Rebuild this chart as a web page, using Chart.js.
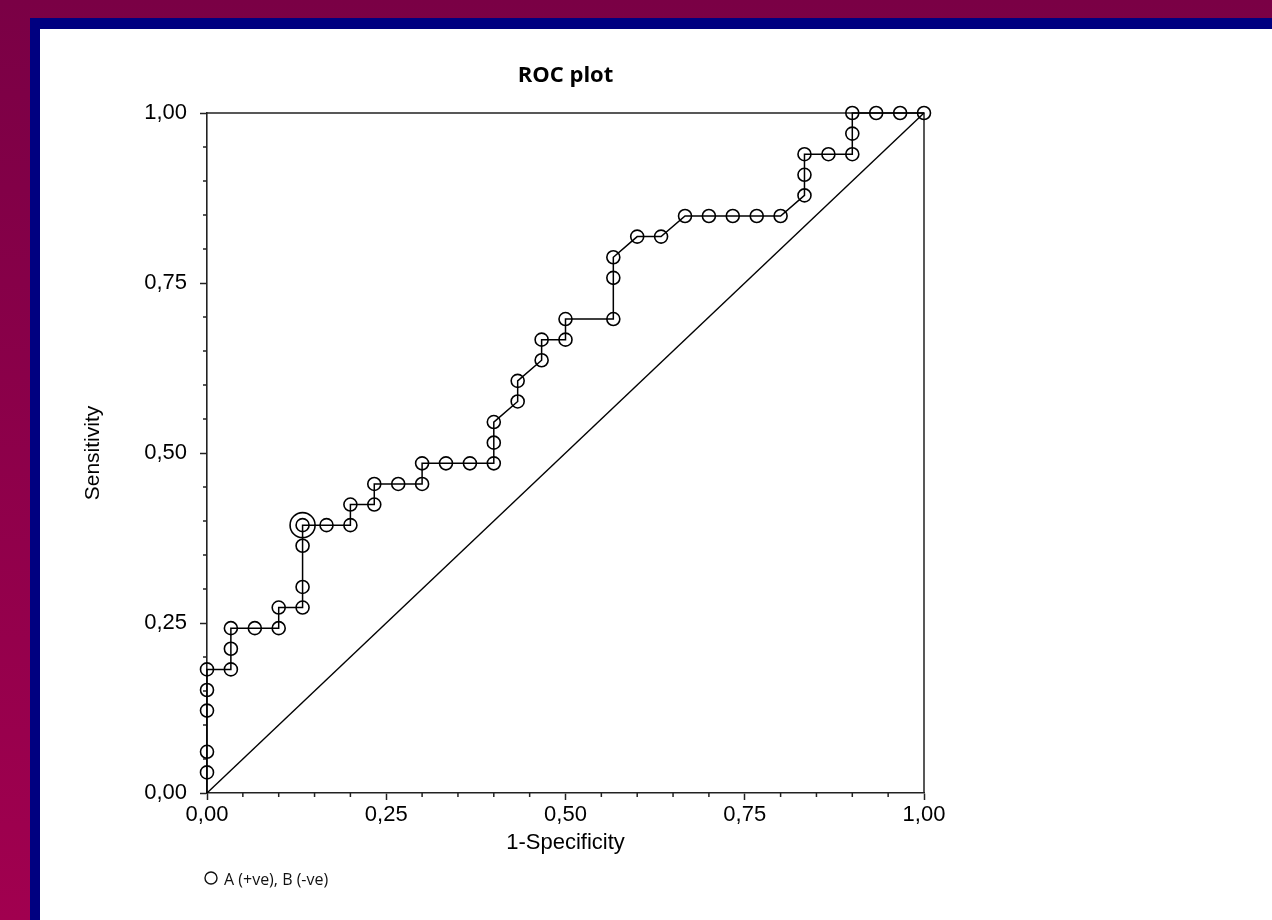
<!DOCTYPE html>
<html>
<head>
<meta charset="utf-8">
<title>ROC plot</title>
<script src="https://cdn.jsdelivr.net/npm/chart.js@4.4.1/dist/chart.umd.min.js"></script>
<style>
  html, body { margin: 0; padding: 0; width: 1272px; height: 920px; overflow: hidden; }
  body { position: relative; background: linear-gradient(to bottom, #7a0045, #a1004f); }
  #frame { position: absolute; left: 30px; top: 18px; right: 0; bottom: 0; background: #000080; }
  #panel { position: absolute; left: 40px; top: 29px; right: 0; bottom: 0; background: #fff; }
  #rocChart { position: absolute; left: 0; top: 0; }
</style>
</head>
<body>
<div id="frame"></div>
<div id="panel"></div>
<canvas id="rocChart" width="1272" height="920"></canvas>
<script>
// 1-Specificity (false positive rate) along the curve
const fpr = [
    0, 0, 0, 0, 0, 0,
    0.0333, 0.0333, 0.0333, 0.0667, 0.1, 0.1,
    0.1333, 0.1333, 0.1333, 0.1333, 0.1667, 0.2, 0.2,
    0.2333, 0.2333, 0.2667, 0.3, 0.3, 0.3333, 0.3667,
    0.4, 0.4, 0.4, 0.4333, 0.4333, 0.4667, 0.4667, 0.5, 0.5,
    0.5667, 0.5667, 0.5667, 0.6, 0.6333, 0.6667, 0.7, 0.7333, 0.7667, 0.8,
    0.8333, 0.8333, 0.8333, 0.8667, 0.9, 0.9, 0.9, 0.9333, 0.9667, 1
]
// Sensitivity (true positive rate) along the curve
const tpr = [
    0, 0.0303, 0.0606, 0.1212, 0.1515, 0.1818,
    0.1818, 0.2121, 0.2424, 0.2424, 0.2424, 0.2727,
    0.2727, 0.3030, 0.3636, 0.3939, 0.3939, 0.3939, 0.4242,
    0.4242, 0.4545, 0.4545, 0.4545, 0.4848, 0.4848, 0.4848,
    0.4848, 0.5152, 0.5455, 0.5758, 0.6061, 0.6364, 0.6667, 0.6667, 0.6970,
    0.6970, 0.7576, 0.7879, 0.8182, 0.8182, 0.8485, 0.8485, 0.8485, 0.8485, 0.8485,
    0.8788, 0.9091, 0.9394, 0.9394, 0.9394, 0.9697, 1, 1, 1, 1
]
// optimal criterion (double circle)
const optimalFpr = [0.1333]
const optimalTpr = [0.3939]
// reference diagonal
const diagX = [0, 1]
const diagY = [0, 1]

const majorTicks = [0, 0.25, 0.5, 0.75, 1]
const minorTicks = [0.05, 0.1, 0.15, 0.2, 0.3, 0.35, 0.4, 0.45, 0.55, 0.6, 0.65, 0.7, 0.8, 0.85, 0.9, 0.95]

const seriesLabel = 'A (+ve), B (-ve)'

const arial = "'Liberation Sans', Arial, sans-serif"
const axisColor = '#222'
const fmt = (v) => Number(v).toFixed(2).replace('.', ',')

const toPoints = (xs, ys) => xs.map((v, i) => ({ x: v, y: ys[i] }))

const boxAndMinorTicks = {
    id: 'boxAndMinorTicks',
    beforeDatasetsDraw(chart) {
        const { ctx, chartArea: a, scales: { x, y } } = chart
        ctx.save()
        ctx.strokeStyle = axisColor
        ctx.lineWidth = 1.5
        ctx.beginPath()
        ctx.moveTo(a.left, a.top)
        ctx.lineTo(a.right, a.top)
        ctx.lineTo(a.right, a.bottom)
        ctx.stroke()

        ctx.beginPath()
        minorTicks.forEach((v) => {
            const py = y.getPixelForValue(v)
            ctx.moveTo(a.left - 4, py)
            ctx.lineTo(a.left, py)
            const px = x.getPixelForValue(v)
            ctx.moveTo(px, a.bottom)
            ctx.lineTo(px, a.bottom + 4)
        })
        ctx.stroke()
        ctx.restore()
    },
    afterDraw(chart) {
        // small legend below the x axis title
        const { ctx, chartArea: a } = chart
        const cx = a.left + 4
        const cy = a.bottom + 85
        ctx.save()
        ctx.strokeStyle = '#111'
        ctx.lineWidth = 1.4
        ctx.beginPath()
        ctx.arc(cx, cy, 6, 0, Math.PI * 2)
        ctx.stroke()
        ctx.fillStyle = '#111'
        ctx.font = "16px 'Open Sans', sans-serif"
        ctx.textBaseline = 'middle'
        ctx.fillText(chart.data.datasets[0].label, cx + 13, cy + 2)
        ctx.restore()
    }
}

const config = {
    type: 'scatter',
    data: {
        datasets: [
            {
                label: seriesLabel,
                data: toPoints(fpr, tpr),
                showLine: true,
                borderColor: '#000',
                borderWidth: 1.5,
                pointRadius: (c) => (c.dataIndex === 0 ? 0 : 6.5),
                pointBorderWidth: 1.6,
                pointBorderColor: '#000',
                pointBackgroundColor: 'rgba(0,0,0,0)',
                clip: false,
                order: 1,
            },
            {
                label: 'criterion',
                data: toPoints(optimalFpr, optimalTpr),
                showLine: false,
                pointRadius: 12.5,
                pointBorderWidth: 1.6,
                pointBorderColor: '#000',
                pointBackgroundColor: 'rgba(0,0,0,0)',
                clip: false,
                order: 2,
            },
            {
                label: 'diagonal',
                data: toPoints(diagX, diagY),
                showLine: true,
                borderColor: '#000',
                borderWidth: 1.4,
                pointRadius: 0,
                clip: false,
                order: 3,
            },
        ],
    },
    options: {
        responsive: false,
        animation: false,
        events: [],
        layout: { padding: { left: 40, top: 29, right: 348, bottom: 61 } },
        plugins: {
            legend: { display: false },
            tooltip: { enabled: false },
            title: {
                display: true,
                fullSize: false,
                text: 'ROC plot',
                color: '#000',
                font: { family: "'Open Sans', sans-serif", size: 22, weight: 'bold' },
                padding: { top: 34, bottom: 23.6 },
            },
        },
        scales: {
            x: {
                type: 'linear',
                position: 'bottom',
                min: 0,
                max: 1,
                afterFit: (s) => { s.height = 66 },
                afterBuildTicks: (s) => { s.ticks = majorTicks.map((v) => ({ value: v })) },
                ticks: { callback: fmt, color: '#000', padding: 2, maxRotation: 0, font: { family: arial, size: 22 } },
                grid: { drawOnChartArea: false, tickLength: 7, tickColor: axisColor, tickWidth: 1.5 },
                border: { display: true, color: axisColor, width: 1.6 },
                title: {
                    display: true,
                    text: '1-Specificity',
                    color: '#000',
                    font: { family: arial, size: 22 },
                    padding: { top: 0, bottom: 3 },
                },
            },
            y: {
                type: 'linear',
                position: 'left',
                min: 0,
                max: 1,
                afterFit: (s) => { s.width = 167 },
                afterBuildTicks: (s) => { s.ticks = majorTicks.map((v) => ({ value: v })) },
                ticks: { callback: fmt, color: '#000', padding: 13, font: { family: arial, size: 22 } },
                grid: { drawOnChartArea: false, tickLength: 7, tickColor: axisColor, tickWidth: 1.5 },
                border: { display: true, color: axisColor, width: 1.6 },
                title: {
                    display: true,
                    text: 'Sensitivity',
                    color: '#000',
                    font: { family: arial, size: 21 },
                    padding: { top: 41, bottom: 0 },
                },
            },
        },
    },
    plugins: [boxAndMinorTicks],
}

const canvas = document.getElementById('rocChart')
const existing = Chart.getChart(canvas)
if (existing) existing.destroy()
new Chart(canvas, config)
</script>
</body>
</html>
